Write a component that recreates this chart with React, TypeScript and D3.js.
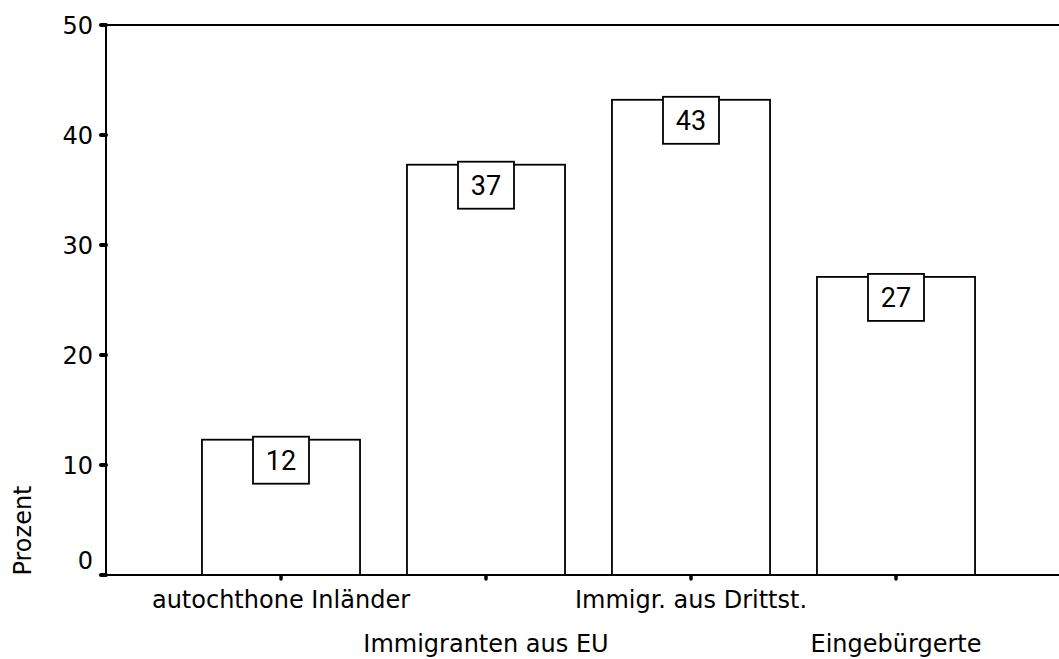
import React from "react";
import * as d3 from "d3";

const categories = [
  "autochthone Inländer",
  "Immigranten aus EU",
  "Immigr. aus Drittst.",
  "Eingebürgerte",
];
const values = [12.3, 37.3, 43.2, 27.1];
const yTicks = [0, 10, 20, 30, 40, 50];
const yTitle = "Prozent";

const W = 1059;
const H = 659;
const axisX = 106;
const top = 25;
const bottom = 575;

export default function App() {
  const y = d3.scaleLinear().domain([0, 50]).range([bottom, top]);
  const x = d3
    .scaleBand<string>()
    .domain(categories)
    .range([178.5, 998.5])
    .paddingInner(0.229)
    .paddingOuter(0.1145);
  const fmt = d3.format(".0f");
  const font = "'DejaVu Sans', sans-serif";
  const boxW = 56;
  const boxH = 47;

  return (
    <svg
      width={W}
      height={H}
      style={{ position: "absolute", left: 0, top: 0, display: "block", background: "#fff" }}
    >
      <line x1={axisX} x2={W} y1={top} y2={top} stroke="#000" strokeWidth={2} />
      <line x1={axisX} x2={axisX} y1={top} y2={bottom} stroke="#000" strokeWidth={2} />

      {categories.map((c, i) => {
        const x0 = x(c)!;
        const bw = x.bandwidth();
        const yt = y(values[i]);
        return (
          <rect
            key={c}
            x={x0}
            y={yt}
            width={bw}
            height={bottom - yt}
            fill="#fff"
            stroke="#000"
            strokeWidth={1.8}
          />
        );
      })}

      <line x1={100} x2={W} y1={bottom} y2={bottom} stroke="#000" strokeWidth={2.2} />

      {categories.map((c, i) => {
        const cx = x(c)! + x.bandwidth() / 2;
        const yt = y(values[i]) - 3;
        return (
          <g key={"lbl" + c}>
            <rect
              x={cx - boxW / 2}
              y={yt}
              width={boxW}
              height={boxH}
              fill="#fff"
              stroke="#000"
              strokeWidth={1.8}
            />
            <text
              x={cx}
              y={yt + boxH / 2 + 9.5}
              textAnchor="middle"
              fontFamily="Roboto, 'Liberation Sans', sans-serif"
              fontSize={27}
              fill="#000"
            >
              {fmt(values[i])}
            </text>
          </g>
        );
      })}

      {yTicks.map((t) => (
        <g key={"yt" + t}>
          <line
            x1={101}
            x2={axisX}
            y1={y(t)}
            y2={y(t)}
            stroke="#000"
            strokeWidth={4}
            strokeLinecap="round"
          />
          <text
            x={93}
            y={y(t) + 8.5 - (t === 0 ? 15 : 0)}
            textAnchor="end"
            fontFamily={font}
            fontSize={24}
            fill="#000"
          >
            {t}
          </text>
        </g>
      ))}

      {categories.map((c, i) => {
        const cx = x(c)! + x.bandwidth() / 2;
        return (
          <g key={"xt" + c}>
            <line
              x1={cx}
              x2={cx}
              y1={bottom + 1}
              y2={bottom + 4}
              stroke="#000"
              strokeWidth={3.5}
              strokeLinecap="round"
            />
            <text
              x={cx}
              y={i % 2 === 0 ? 608 : 652}
              textAnchor="middle"
              fontFamily={font}
              fontSize={24}
              fill="#000"
            >
              {c}
            </text>
          </g>
        );
      })}

      <text
        transform={`translate(31,530.5) rotate(-90)`}
        textAnchor="middle"
        fontFamily={font}
        fontSize={24}
        fill="#000"
      >
        {yTitle}
      </text>
    </svg>
  );
}
